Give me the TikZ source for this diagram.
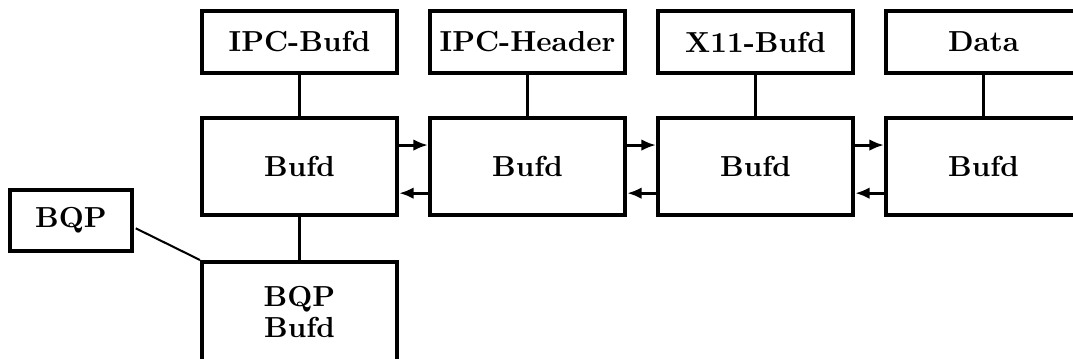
\documentclass[tikz,border=0pt]{standalone}
\usetikzlibrary{arrows.meta,calc}
\begin{document}
\begin{tikzpicture}[x=0.345pt,y=-0.345pt,
  box/.style={draw,line width=1.4pt,inner sep=0pt,font=\bfseries,align=center},
  topbox/.style={box,minimum width=67.3pt,minimum height=21.4pt},
  bufbox/.style={box,minimum width=67.3pt,minimum height=33.5pt},
  link/.style={line width=1pt},
  fwd/.style={line width=1pt,-{Latex[length=5pt,width=4pt]}}]
\useasboundingbox (0,0) rectangle (1073,358);
\clip (0,0) rectangle (1073,358);
% top row
\node[topbox] (t1) at (299.5,42) {IPC-Bufd};
\node[topbox] (t2) at (527.5,42) {IPC-Header};
\node[topbox] (t3) at (755.5,42) {X11-Bufd};
\node[topbox] (t4) at (983.5,42) {Data};
% buffer row
\node[bufbox] (b1) at (299.5,166.5) {Bufd};
\node[bufbox] (b2) at (527.5,166.5) {Bufd};
\node[bufbox] (b3) at (755.5,166.5) {Bufd};
\node[bufbox] (b4) at (983.5,166.5) {Bufd};
% BQP
\node[box,minimum width=42.1pt,minimum height=21.05pt] (bqp) at (71,220.5) {BQP};
\node[box,minimum width=67.3pt,minimum height=34.5pt] (bqpbufd) at (299.5,312) {BQP\\[-1.3pt]Bufd};
% vertical links
\foreach \i in {1,2,3,4} \draw[link] (t\i.south) -- (b\i.north);
\draw[link] (b1.south) -- (bqpbufd.north);
\draw[line width=0.7pt] ([xshift=0.6pt,yshift=-2.7pt]bqp.east) -- (bqpbufd.north west);
% arrows between buffers
\foreach \a/\b in {b1/b2,b2/b3,b3/b4}{
  \draw[fwd] ([yshift=7.4pt]\a.east) -- ([yshift=7.4pt]\b.west);
  \draw[fwd] ([yshift=-9.2pt]\b.west) -- ([yshift=-9.2pt]\a.east);
}
\end{tikzpicture}
\end{document}
